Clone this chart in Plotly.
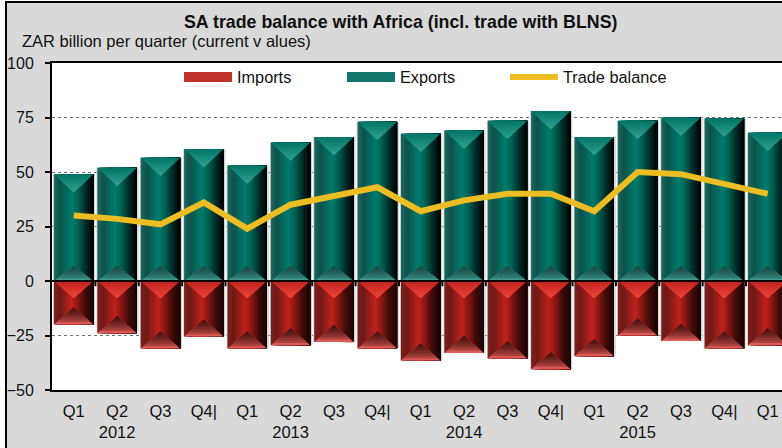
import plotly.graph_objects as go

quarters = ["Q1", "Q2", "Q3", "Q4|"] * 4 + ["Q1"]
years = ["2012", "2013", "2014", "2015"]
imports = [-20, -24, -31, -25.5, -31, -29.5, -28, -31, -36.5, -33, -35.5, -40.5, -34.5, -25, -27.5, -31, -29.5]
exports = [49, 52, 56.5, 60.5, 53, 63.5, 66, 73, 67.5, 69, 73.5, 78, 66, 73.5, 75, 74.5, 68]
balance = [30, 28.5, 26, 36, 24, 35, 39, 43, 32, 37, 40, 40, 32, 50, 49, 44.5, 40]

W, H = 782, 448
L, R, T, B = 52, 0, 63, 58
FONT = "Liberation Sans, Arial, sans-serif"
idx = list(range(len(quarters)))
ticks = [q + ("<br>" + years[i // 4] if i % 4 == 1 else "") for i, q in enumerate(quarters)]
BAR = 0.91
UNIT_PER_PX = 150 / (H - T - B)


def hex2rgb(h):
    return [int(h[i:i + 2], 16) for i in (1, 3, 5)]


def ramp(stops, t):
    for (a, ca), (b, cb) in zip(stops, stops[1:]):
        if t <= b:
            f = (t - a) / (b - a)
            ra, rb = hex2rgb(ca), hex2rgb(cb)
            return "rgb(%d,%d,%d)" % tuple(ra[k] + (rb[k] - ra[k]) * f for k in range(3))
    return stops[-1][1]


def blend(c1, c2, f):
    a, b = hex2rgb(c1), hex2rgb(c2)
    return "rgb(%d,%d,%d)" % tuple(a[k] + (b[k] - a[k]) * f for k in range(3))


fig = go.Figure()


def add_bars(values, stops):
    fig.add_bar(x=idx, y=values, width=0.97, offset=-0.475, showlegend=False, hoverinfo="skip",
                marker=dict(color="#cfd2d2", line_width=0))
    n = 26
    for k in range(n):
        left = BAR * k / n
        fig.add_bar(x=idx, y=values, width=BAR - left, offset=-BAR / 2 + left,
                    showlegend=False, hoverinfo="skip",
                    marker=dict(color=ramp(stops, (k + 0.5) / n), line_width=0))


def add_bevel(ends, direction, depth_px, base, apex, gamma=1.0):
    """Triangles with their base on `ends`, narrowing in `direction`; nested for a shaded look."""
    depth = depth_px * UNIT_PER_PX
    n = 7
    for k in range(n):
        f = k / n
        xs, ys = [], []
        for i, v in zip(idx, ends):
            half = BAR / 2 * (1 - f)
            y0 = v + direction * depth * f
            xs += [i - half, i + half, i, None]
            ys += [y0, y0, v + direction * depth, None]
        fig.add_scatter(x=xs, y=ys, mode="lines", fill="toself", line_width=0,
                        fillcolor=blend(base, apex, (f / (1 - 1 / n)) ** gamma),
                        showlegend=False, hoverinfo="skip")


green = [(0, "#1d6a62"), (0.15, "#0e524c"), (0.45, "#007c6e"), (0.6, "#006454"), (0.8, "#012d29"), (1, "#000000")]
red = [(0, "#80201d"), (0.15, "#701a18"), (0.45, "#c2211c"), (0.6, "#8c1814"), (0.8, "#3e0c0a"), (1, "#190403")]
add_bars(exports, green)
add_bars(imports, red)

zeros = [0] * len(idx)
add_bevel(exports, -1, 18, "#04786b", "#2f9e8e")
add_bevel(zeros, 1, 15, "#3f9d8f", "#1a4a46", gamma=0.6)
add_bevel(zeros, -1, 17, "#c4241f", "#ea4238")
add_bevel(imports, 1, 17, "#dc5a55", "#4a1210", gamma=0.6)

# zero line and its tick marks at the category boundaries
fig.add_scatter(x=[-0.5, len(idx)], y=[0, 0], mode="lines", line=dict(color="black", width=2),
                showlegend=False, hoverinfo="skip")
fig.add_scatter(x=[i + 0.5 for i in idx], y=zeros, mode="markers", marker=dict(size=1, color="black"),
                error_y=dict(type="data", symmetric=False, array=zeros, arrayminus=[2.4] * len(idx),
                             width=0, thickness=2, color="black"),
                showlegend=False, hoverinfo="skip")

fig.add_scatter(x=idx, y=balance, mode="lines", line=dict(color="#edbd24", width=6),
                showlegend=False, hoverinfo="skip")

# legend entries
for name, col, w in [("Imports", "#bf322a", 12), ("Exports", "#12776b", 12), ("Trade balance", "#edbd24", 6)]:
    fig.add_scatter(x=[None], y=[None], mode="lines", name=name, line=dict(color=col, width=w))


def px(x):
    return (x - L) / (W - L - R)


def py(y):
    return 1 - (y - T) / (H - T - B)


frame = [
    dict(type="rect", xref="paper", yref="paper", x0=px(0), x1=px(5), y0=py(0), y1=py(H),
         fillcolor="white", line_width=0),
    dict(type="rect", xref="paper", yref="paper", x0=px(0), x1=px(W), y0=py(0), y1=py(1),
         fillcolor="white", line_width=0),
    dict(type="rect", xref="paper", yref="paper", x0=px(5), x1=px(7), y0=py(1), y1=py(H),
         fillcolor="black", line_width=0),
    dict(type="rect", xref="paper", yref="paper", x0=px(5), x1=px(W), y0=py(1), y1=py(3),
         fillcolor="black", line_width=0),
]

fig.update_layout(
    width=W, height=H,
    margin=dict(l=L, r=R, t=T, b=B, pad=0),
    paper_bgcolor="#d9d9d9", plot_bgcolor="white",
    barmode="overlay",
    font=dict(family=FONT, color="#111111", size=16),
    shapes=frame,
    showlegend=True,
    legend=dict(orientation="h", x=px(179), xanchor="left", y=py(60), yanchor="top",
                bgcolor="rgba(0,0,0,0)", itemwidth=48, font=dict(size=16.3),
                itemclick=False, itemdoubleclick=False, entrywidth=100, entrywidthmode="pixels"),
    annotations=[
        dict(text="<b>SA trade balance with Africa (incl. trade with BLNS)</b>", xref="paper", yref="paper",
             x=px(400), y=py(22), xanchor="center", yanchor="middle", showarrow=False, font=dict(size=17.8)),
        dict(text="ZAR billion per quarter (current v alues)", xref="paper", yref="paper",
             x=px(20), y=py(41), xanchor="left", yanchor="middle", showarrow=False, font=dict(size=16.5)),
    ],
    xaxis=dict(range=[-0.5, (W - L) / ((W - L + 7.4) / 17) - 0.5], tickmode="array", tickvals=idx, ticktext=ticks,
               showgrid=False, zeroline=False, showline=True, mirror=True, linecolor="black", linewidth=2,
               ticks="", tickfont=dict(size=16.5), tickangle=0, ticklabelstandoff=5, fixedrange=True),
    yaxis=dict(range=[-50, 100], tickmode="linear", dtick=25, showgrid=True, gridcolor="#6e6e6e",
               griddash="dot", gridwidth=1, zeroline=False, showline=True, linecolor="black", linewidth=2,
               ticks="outside", ticklen=5, tickcolor="black", tickwidth=2, ticklabelstandoff=8,
               tickfont=dict(size=16), fixedrange=True),
)

fig.write_html("out.html", config=dict(displayModeBar=False),
               post_script="document.body.style.margin='0';document.body.style.overflow='hidden';")
